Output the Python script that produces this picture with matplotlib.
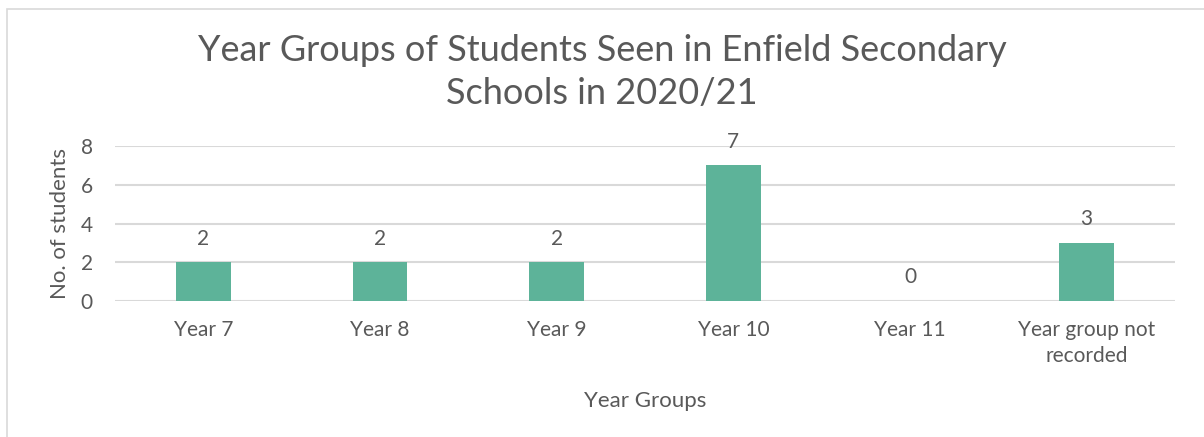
import matplotlib
matplotlib.use('Agg')
import matplotlib.pyplot as plt
from matplotlib.patches import Rectangle
import numpy as np

plt.rcParams['font.family'] = ['Lato', 'DejaVu Sans']

# Data
categories = ['Year 7', 'Year 8', 'Year 9', 'Year 10', 'Year 11',
              'Year group not\nrecorded']
students = [2, 2, 2, 7, 0, 3]

BAR_COLOR = '#5DB399'
TEXT_COLOR = '#595959'
GRID_COLOR = '#D9D9D9'

fig = plt.figure(figsize=(12.04, 4.37), dpi=100)
W, H = 1204, 437

# chart frame
fig.patches.append(Rectangle((7 / W, -0.1), 1.2, 1 - 9 / H + 0.1,
                             transform=fig.transFigure, fill=False,
                             edgecolor=GRID_COLOR, linewidth=1.2))

ax = fig.add_axes([115 / W, 1 - 301 / H, (1175 - 115) / W, (301 - 146) / H])
x = np.arange(len(categories))
ax.bar(x, students, width=0.31, color=BAR_COLOR, zorder=3)
for xi, v in zip(x, students):
    ax.annotate(str(v), (xi, v), xytext=(0, 17), textcoords='offset points',
                ha='center', va='center', fontsize=15, color=TEXT_COLOR,
                zorder=4)

ax.set_xlim(-0.5, len(categories) - 0.5)
ax.set_ylim(0, 8)
ax.set_yticks([0, 2, 4, 6, 8])
ax.yaxis.grid(True, color=GRID_COLOR, linewidth=1.5, zorder=0)
ax.set_axisbelow(True)
for s in ax.spines.values():
    s.set_visible(False)
ax.tick_params(length=0, labelsize=15, labelcolor=TEXT_COLOR)
ax.tick_params(axis='x', pad=14)
ax.tick_params(axis='y', pad=16)
ax.set_xticks(x)
ax.set_xticklabels(categories, linespacing=1.35)

ax.set_xlabel('Year Groups', fontsize=16, color=TEXT_COLOR, labelpad=18)
ax.set_ylabel('No. of students', fontsize=16, color=TEXT_COLOR, labelpad=8)

fig.text(0.5, 1 - 72 / H, 'Year Groups of Students Seen in Enfield Secondary\nSchools in 2020/21',
         ha='center', va='center', fontsize=26, color=TEXT_COLOR,
         linespacing=1.35)

fig.savefig('out.png', dpi=100, facecolor='white')
